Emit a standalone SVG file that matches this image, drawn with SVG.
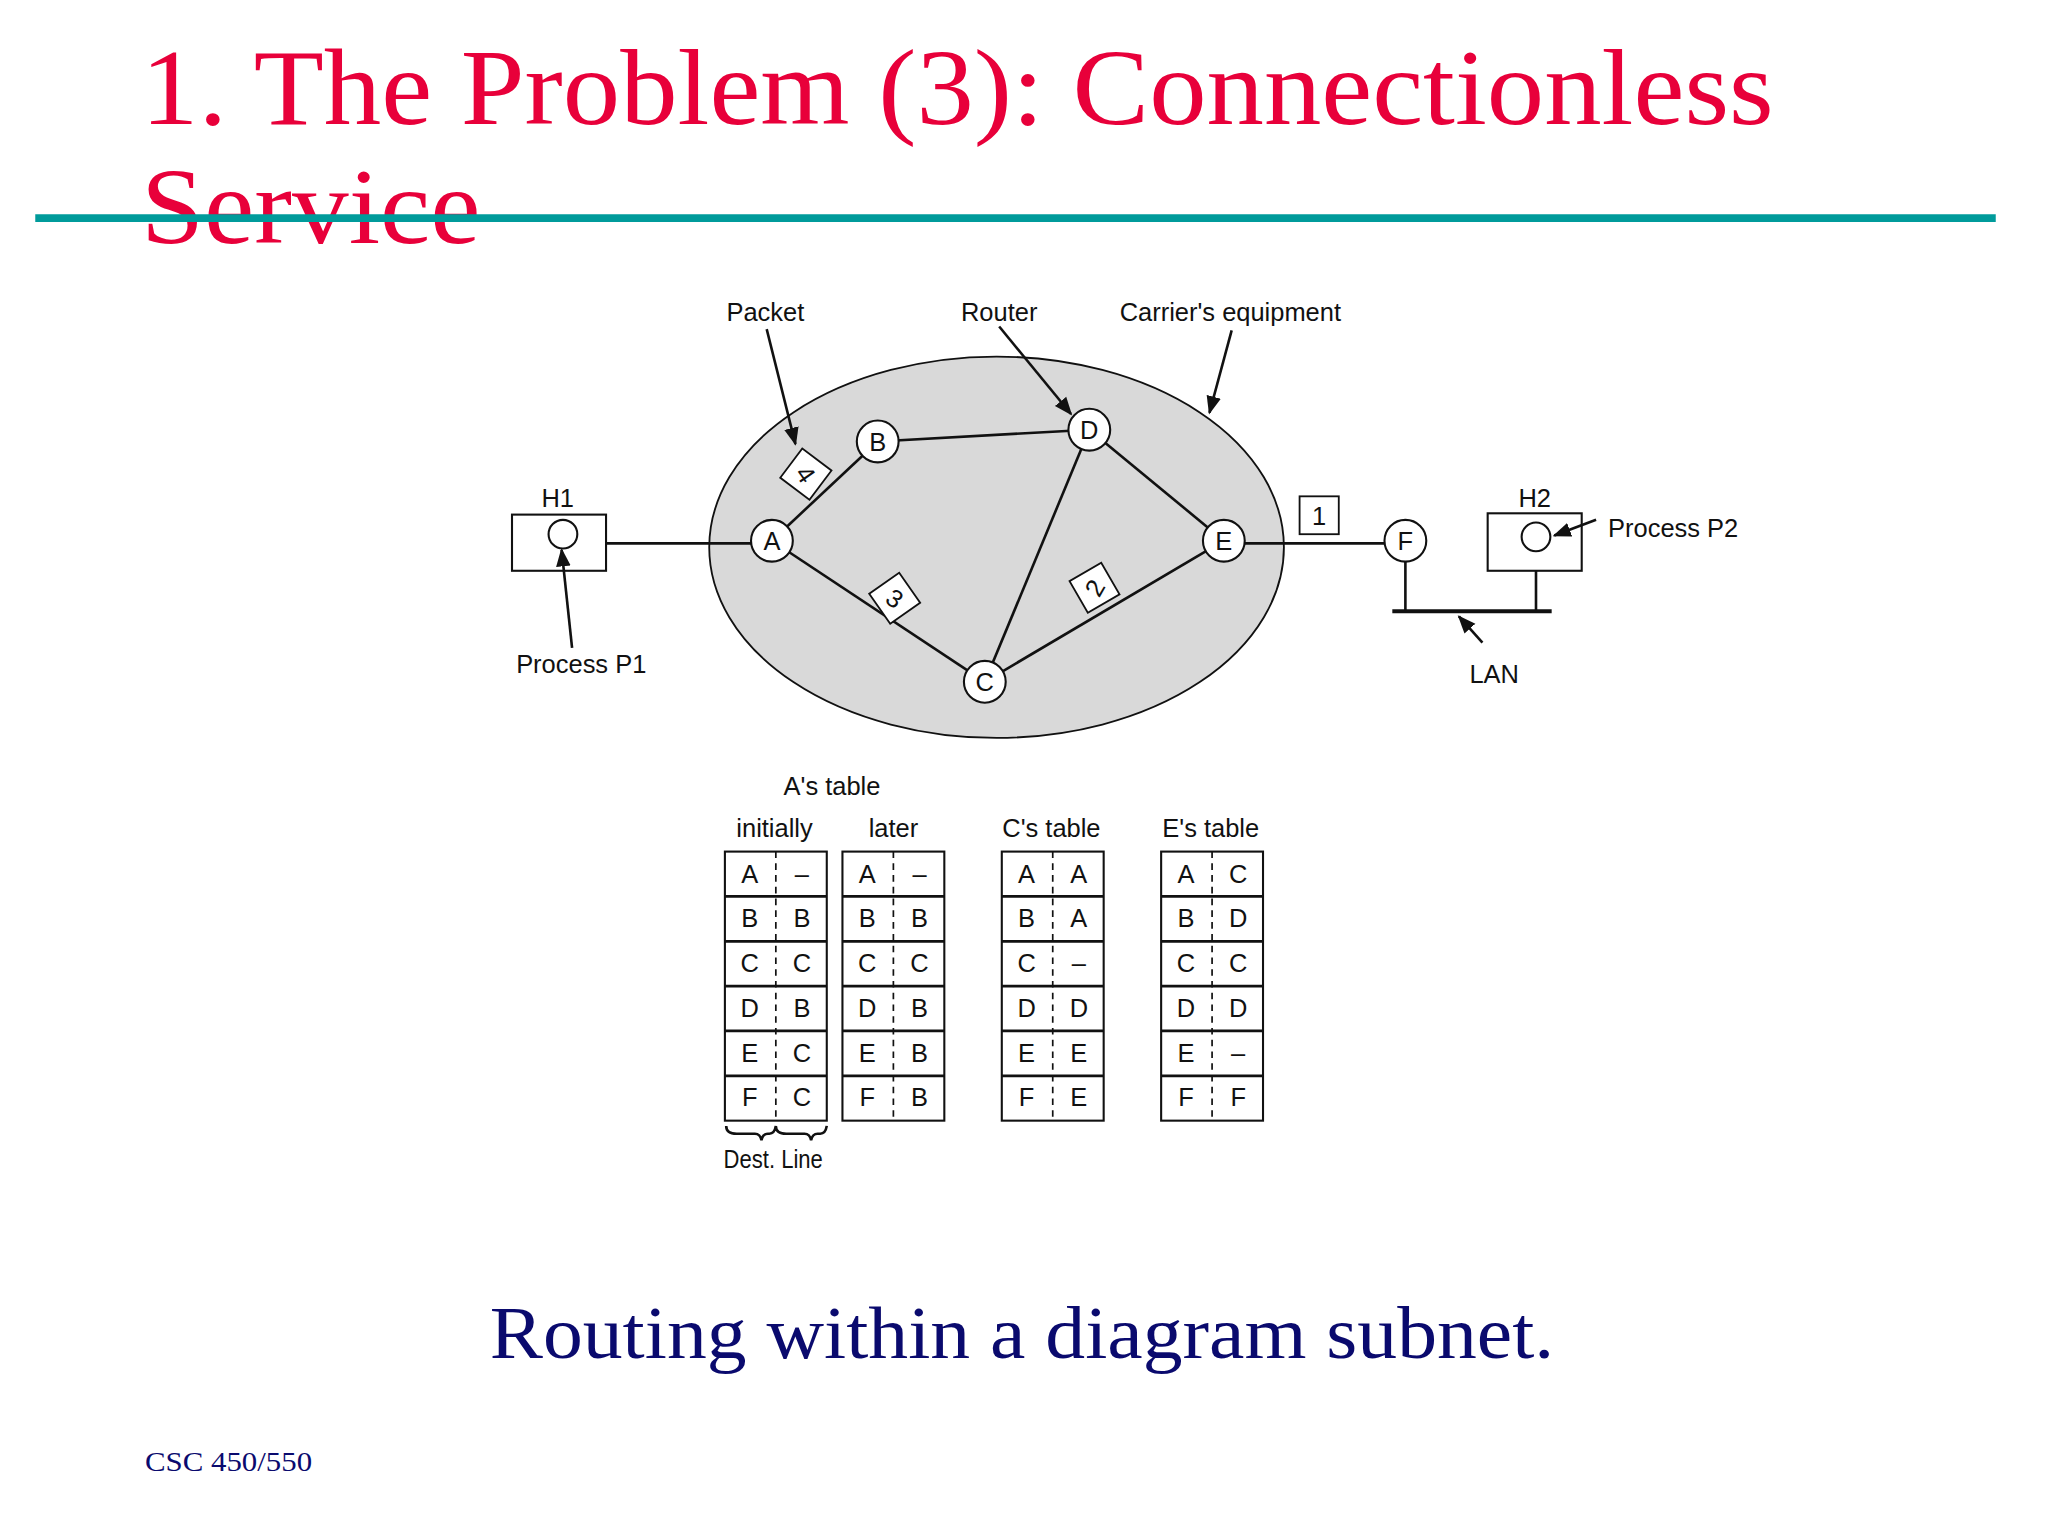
<svg xmlns="http://www.w3.org/2000/svg" width="2048" height="1536" viewBox="0 0 2048 1536">
<style>
.t{font-family:"Liberation Sans",Arial,sans-serif;font-size:19.5px;fill:#111;text-anchor:middle}
.ln{stroke:#111;stroke-width:2;fill:none}
.nd{fill:#fff;stroke:#111;stroke-width:1.6}
.pk{fill:#fff;stroke:#111;stroke-width:1.4}
.cell{fill:#fff;stroke:#111;stroke-width:1.6}
.dash{stroke:#111;stroke-width:1.3;stroke-dasharray:5,4}
</style>
<defs>
<marker id="ar" viewBox="0 0 10 10" refX="9" refY="5" markerWidth="7" markerHeight="7" orient="auto"><path d="M0,1 L10,5 L0,9 z" fill="#111"/></marker>
</defs>
<rect width="2048" height="1536" fill="#fff"/>
<g transform="scale(1.30612)">
<text x="108" y="95" font-family="Liberation Serif,serif" font-size="82" fill="#e8003a" textLength="1250" lengthAdjust="spacingAndGlyphs">1. The Problem (3): Connectionless</text>
<text x="108" y="186" font-family="Liberation Serif,serif" font-size="82" fill="#e8003a" textLength="260" lengthAdjust="spacingAndGlyphs">Service</text>
<line x1="27" y1="167" x2="1528" y2="167" stroke="#009b9b" stroke-width="6"/>
<g id="carrier"><ellipse cx="763" cy="419" rx="220" ry="146" fill="#d9d9d9" stroke="#111" stroke-width="1.4"/></g>
<g id="connectors">
<line class="ln" x1="464" y1="416" x2="575" y2="416"/>
<line class="ln" x1="591" y1="414" x2="672" y2="338"/>
<line class="ln" x1="672" y1="338" x2="834" y2="329"/>
<line class="ln" x1="834" y1="329" x2="937" y2="414"/>
<line class="ln" x1="834" y1="329" x2="754" y2="522"/>
<line class="ln" x1="591" y1="414" x2="754" y2="522"/>
<line class="ln" x1="754" y1="522" x2="937" y2="414"/>
<line class="ln" x1="937" y1="416" x2="1076" y2="416"/>
<line class="ln" x1="1076" y1="414" x2="1076" y2="468"/>
<line class="ln" x1="1176" y1="437" x2="1176" y2="468"/>
<line x1="1066" y1="468" x2="1188" y2="468" stroke="#111" stroke-width="3"/>
<line class="ln" stroke-width="1.3" x1="587" y1="252" x2="609" y2="340" marker-end="url(#ar)"/>
<line class="ln" stroke-width="1.3" x1="765" y1="250" x2="820" y2="317" marker-end="url(#ar)"/>
<line class="ln" stroke-width="1.3" x1="943" y1="253" x2="926" y2="316" marker-end="url(#ar)"/>
<line class="ln" stroke-width="1.3" x1="1135" y1="492" x2="1117" y2="472" marker-end="url(#ar)"/>
</g>
<g id="H1"><rect x="392" y="394" width="72" height="43" class="nd"/><circle cx="431" cy="409" r="11" class="nd"/><text class="t" x="427" y="388">H1</text></g>
<g id="H2"><rect x="1139" y="393" width="72" height="44" class="nd"/><circle cx="1176" cy="411" r="11" class="nd"/><text class="t" x="1175" y="388">H2</text></g>
<g id="connectors2">
<line class="ln" stroke-width="1.3" x1="438" y1="496" x2="430" y2="421" marker-end="url(#ar)"/>
<line class="ln" stroke-width="1.3" x1="1222" y1="398" x2="1190" y2="410" marker-end="url(#ar)"/>
</g>
<g id="nA"><circle cx="591" cy="414" r="16" class="nd"/><text class="t" x="591" y="421">A</text></g>
<g id="nB"><circle cx="672" cy="338" r="16" class="nd"/><text class="t" x="672" y="345">B</text></g>
<g id="nD"><circle cx="834" cy="329" r="16" class="nd"/><text class="t" x="834" y="336">D</text></g>
<g id="nE"><circle cx="937" cy="414" r="16" class="nd"/><text class="t" x="937" y="421">E</text></g>
<g id="nC"><circle cx="754" cy="522" r="16" class="nd"/><text class="t" x="754" y="529">C</text></g>
<g id="nF"><circle cx="1076" cy="414" r="16" class="nd"/><text class="t" x="1076" y="421">F</text></g>
<g id="p4" transform="translate(617,363) rotate(-45)"><rect x="-14" y="-14" width="28" height="28" class="pk" transform="rotate(-8)"/><text class="t" y="7" transform="rotate(100)">4</text></g>
<g id="p3" transform="translate(685,458) rotate(-55)"><rect x="-14" y="-14" width="28" height="28" class="pk" transform="rotate(20)"/><text class="t" y="7" transform="rotate(90)">3</text></g>
<g id="p2" transform="translate(838,450) rotate(-30)"><rect x="-14" y="-14" width="28" height="28" class="pk"/><text class="t" y="7" transform="rotate(-30)">2</text></g>
<g id="p1"><rect x="995" y="380" width="30" height="29" class="pk"/><text class="t" x="1010" y="402">1</text></g>
<g id="labels">
<text class="t" x="586" y="246">Packet</text>
<text class="t" x="765" y="246">Router</text>
<text class="t" x="942" y="246">Carrier's equipment</text>
<text class="t" x="445" y="515">Process P1</text>
<text class="t" x="1281" y="411">Process P2</text>
<text class="t" x="1144" y="523">LAN</text>
<text class="t" x="637" y="609">A's table</text>
<text class="t" x="593" y="641">initially</text>
<text class="t" x="684" y="641">later</text>
<text class="t" x="805" y="641">C's table</text>
<text class="t" x="927" y="641">E's table</text>
<text class="t" x="592" y="894" font-size="17" textLength="76" lengthAdjust="spacingAndGlyphs">Dest. Line</text>
</g>
<g id="tables">
<g id="tA1" transform="translate(555,652)">
<rect class="cell" width="78" height="206"/><path class="ln" stroke-width="1.6" d="M0,34.3H78M0,68.7H78M0,103H78M0,137.3H78M0,171.7H78"/><line class="dash" x1="39" y1="0" x2="39" y2="206"/>
<g class="t"><text x="19" y="24">A</text><text x="59" y="24">–</text><text x="19" y="58">B</text><text x="59" y="58">B</text><text x="19" y="92">C</text><text x="59" y="92">C</text><text x="19" y="127">D</text><text x="59" y="127">B</text><text x="19" y="161">E</text><text x="59" y="161">C</text><text x="19" y="195">F</text><text x="59" y="195">C</text></g>
</g>
<g id="tA2" transform="translate(645,652)">
<rect class="cell" width="78" height="206"/><path class="ln" stroke-width="1.6" d="M0,34.3H78M0,68.7H78M0,103H78M0,137.3H78M0,171.7H78"/><line class="dash" x1="39" y1="0" x2="39" y2="206"/>
<g class="t"><text x="19" y="24">A</text><text x="59" y="24">–</text><text x="19" y="58">B</text><text x="59" y="58">B</text><text x="19" y="92">C</text><text x="59" y="92">C</text><text x="19" y="127">D</text><text x="59" y="127">B</text><text x="19" y="161">E</text><text x="59" y="161">B</text><text x="19" y="195">F</text><text x="59" y="195">B</text></g>
</g>
<g id="tC" transform="translate(767,652)">
<rect class="cell" width="78" height="206"/><path class="ln" stroke-width="1.6" d="M0,34.3H78M0,68.7H78M0,103H78M0,137.3H78M0,171.7H78"/><line class="dash" x1="39" y1="0" x2="39" y2="206"/>
<g class="t"><text x="19" y="24">A</text><text x="59" y="24">A</text><text x="19" y="58">B</text><text x="59" y="58">A</text><text x="19" y="92">C</text><text x="59" y="92">–</text><text x="19" y="127">D</text><text x="59" y="127">D</text><text x="19" y="161">E</text><text x="59" y="161">E</text><text x="19" y="195">F</text><text x="59" y="195">E</text></g>
</g>
<g id="tE" transform="translate(889,652)">
<rect class="cell" width="78" height="206"/><path class="ln" stroke-width="1.6" d="M0,34.3H78M0,68.7H78M0,103H78M0,137.3H78M0,171.7H78"/><line class="dash" x1="39" y1="0" x2="39" y2="206"/>
<g class="t"><text x="19" y="24">A</text><text x="59" y="24">C</text><text x="19" y="58">B</text><text x="59" y="58">D</text><text x="19" y="92">C</text><text x="59" y="92">C</text><text x="19" y="127">D</text><text x="59" y="127">D</text><text x="19" y="161">E</text><text x="59" y="161">–</text><text x="19" y="195">F</text><text x="59" y="195">F</text></g>
</g>
<path class="ln" stroke-width="1.3" d="M556,862 q0,6 8,6 h14 q4,0 5,5 q1,-5 5,-5 h1 q4,0 5,-6 M594,862 q0,6 8,6 h14 q4,0 5,5 q1,-5 5,-5 h2 q4,0 5,-6"/>
</g>
<text x="375" y="1040" font-family="Liberation Serif,serif" font-size="56" fill="#0a0a6e" textLength="815" lengthAdjust="spacingAndGlyphs">Routing within a diagram subnet.</text>
<text x="111" y="1126" font-family="Liberation Serif,serif" font-size="21" fill="#0a0a6e" textLength="128" lengthAdjust="spacingAndGlyphs">CSC 450/550</text>
</g>
</svg>
